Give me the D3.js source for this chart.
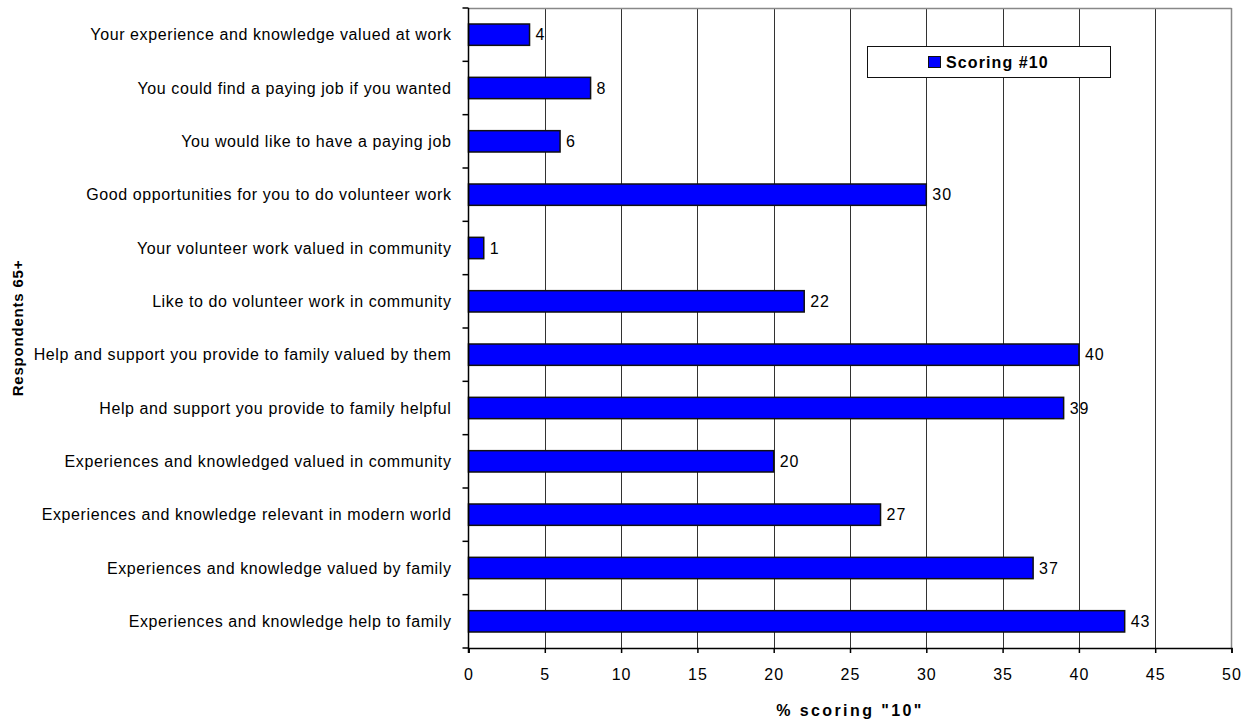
<!DOCTYPE html>
<html>
<head>
<meta charset="utf-8">
<script src="https://cdn.jsdelivr.net/npm/d3@7"></script>
<style>
  body { margin: 0; background: #fff; }
  svg { display: block; font-family: "Liberation Sans", Arial, sans-serif; }
</style>
</head>
<body>
<svg id="chart" width="1249" height="722"></svg>
<script>
// Survey items (top to bottom) and share of respondents scoring "10"
const categories = [
  "Your experience and knowledge valued at work",
  "You could find a paying job if you wanted",
  "You would like to have a paying job",
  "Good opportunities for you to do volunteer work",
  "Your volunteer work valued in community",
  "Like to do volunteer work in community",
  "Help and support you provide to family valued by them",
  "Help and support you provide to family helpful",
  "Experiences and knowledged valued in community",
  "Experiences and knowledge relevant in modern world",
  "Experiences and knowledge valued by family",
  "Experiences and knowledge help to family"
];
const values = [4, 8, 6, 30, 1, 22, 40, 39, 20, 27, 37, 43];
const xTicks = [0, 5, 10, 15, 20, 25, 30, 35, 40, 45, 50];
const seriesName = "Scoring #10";
const xTitle = '% scoring "10"';
const yTitle = "Respondents 65+";

const svg = d3.select("#chart");
const plotL = 468.5, plotR = 1231.5, plotT = 8, plotB = 648;
const FONT = "'Liberation Sans', Arial, sans-serif";

const x = d3.scaleLinear().domain([0, 50]).range([plotL, plotR]);
const y = d3.scaleBand().domain(categories).range([plotT, plotB]).paddingInner(0.6).paddingOuter(0.3);
const band = d3.scaleBand().domain(categories).range([plotT, plotB]);

// vertical gridlines
svg.append("g").selectAll("line").data(xTicks.slice(1, -1)).join("line")
  .attr("x1", d => Math.round(x(d)) + 0.5).attr("x2", d => Math.round(x(d)) + 0.5)
  .attr("y1", plotT).attr("y2", plotB)
  .attr("stroke", "#333").attr("stroke-width", 1);

// plot frame: top and right edges
svg.append("line").attr("x1", plotL).attr("x2", plotR).attr("y1", plotT + 0.5).attr("y2", plotT + 0.5)
  .attr("stroke", "#888").attr("stroke-width", 1.5);
svg.append("line").attr("x1", plotR).attr("x2", plotR).attr("y1", plotT).attr("y2", plotB)
  .attr("stroke", "#888").attr("stroke-width", 1.5);

// bars
svg.append("g").selectAll("rect").data(values).join("rect")
  .attr("x", x(0))
  .attr("y", (d, i) => y(categories[i]))
  .attr("width", d => x(d) - x(0))
  .attr("height", y.bandwidth())
  .attr("fill", "#0000ff")
  .attr("stroke", "#111").attr("stroke-width", 1.5);

// value labels
svg.append("g").selectAll("text").data(values).join("text")
  .attr("x", d => x(d) + 6)
  .attr("y", (d, i) => y(categories[i]) + y.bandwidth() / 2)
  .attr("dy", "0.35em")
  .attr("font-size", 16)
  .attr("letter-spacing", 1)
  .attr("fill", "#000")
  .text(d => d);

// x axis
const xAxis = d3.axisBottom(x).tickValues(xTicks).tickSize(5).tickPadding(16).tickFormat(d3.format("d"));
const gx = svg.append("g").attr("transform", `translate(0,${plotB})`).call(xAxis);
gx.attr("font-family", FONT).attr("font-size", 16);
gx.select(".domain").attr("stroke", "#000").attr("stroke-width", 1.5);
gx.selectAll(".tick line").attr("stroke", "#000").attr("stroke-width", 1.5);
gx.selectAll(".tick text").attr("letter-spacing", 1).attr("fill", "#000");

// y axis: ticks on band boundaries
const gy = svg.append("g");
gy.append("line").attr("x1", plotL).attr("x2", plotL).attr("y1", plotT).attr("y2", plotB + 5)
  .attr("stroke", "#000").attr("stroke-width", 1.5);
gy.selectAll("line.tk").data(d3.range(categories.length + 1)).join("line").attr("class", "tk")
  .attr("x1", plotL - 6).attr("x2", plotL)
  .attr("y1", i => plotT + i * band.bandwidth()).attr("y2", i => plotT + i * band.bandwidth())
  .attr("stroke", "#000").attr("stroke-width", 1.5);
gy.selectAll("text").data(categories).join("text")
  .attr("x", plotL - 17)
  .attr("y", d => y(d) + y.bandwidth() / 2)
  .attr("dy", "0.35em")
  .attr("text-anchor", "end")
  .attr("font-size", 16)
  .attr("letter-spacing", 0.6)
  .attr("fill", "#000")
  .text(d => d);

// axis titles
svg.append("text").attr("x", (plotL + plotR) / 2).attr("y", 716)
  .attr("text-anchor", "middle").attr("font-size", 16).attr("font-weight", "bold")
  .attr("letter-spacing", 2.4).text(xTitle);
svg.append("text").attr("transform", `translate(23,${(plotT + plotB) / 2}) rotate(-90)`)
  .attr("text-anchor", "middle").attr("font-size", 15).attr("font-weight", "bold")
  .attr("letter-spacing", 0.8).text(yTitle);

// legend
const lg = svg.append("g");
lg.append("rect").attr("x", 867.5).attr("y", 46.5).attr("width", 243).attr("height", 31)
  .attr("fill", "#fff").attr("stroke", "#111").attr("stroke-width", 1);
lg.append("rect").attr("x", 928.5).attr("y", 56.5).attr("width", 12).attr("height", 11)
  .attr("fill", "#0000ff").attr("stroke", "#111").attr("stroke-width", 1);
lg.append("text").attr("x", 946).attr("y", 62).attr("dy", "0.35em")
  .attr("font-size", 16).attr("font-weight", "bold").attr("letter-spacing", 1.1)
  .text(seriesName);
</script>
</body>
</html>
